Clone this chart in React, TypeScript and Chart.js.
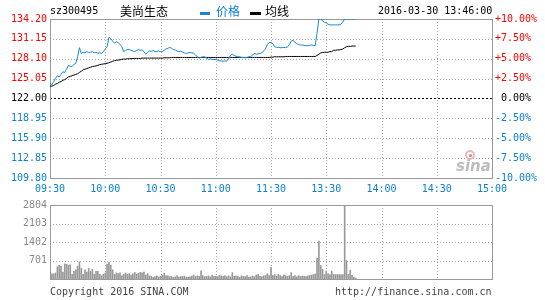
import React, { useEffect, useRef } from "react";
import { Chart, registerables } from "chart.js";
Chart.register(...registerables);

const tickMinutes = [0, 30, 60, 90, 120, 150, 180, 210, 240];
const timeLabels = ["09:30", "10:00", "10:30", "11:00", "11:30", "13:30", "14:00", "14:30", "15:00"];
const priceTicks = [109.8, 112.85, 115.9, 118.95, 122.0, 125.05, 128.1, 131.15, 134.2];
const pctTickValues = [-10, -7.5, -5, -2.5, 0, 2.5, 5, 7.5, 10];
const pctTickLabels = ["-10.00%", "-7.50%", "-5.00%", "-2.50%", " 0.00%", "+2.50%", "+5.00%", "+7.50%", "+10.00%"];
const prevClose = 122.0;
const volumeTicks = [701, 1402, 2103, 2804];

// minute-by-minute price (09:30 .. 13:46)
const price = [
  124.40, 124.10, 124.60, 125.10, 125.50, 125.30, 125.70, 126.10, 126.00, 126.50,
  127.10, 126.90, 126.95, 127.20, 127.40, 128.40, 129.80, 128.90, 129.10, 129.00,
  129.20, 129.05, 129.10, 129.20, 129.00, 129.10, 128.95, 129.00, 128.95, 129.20,
  129.60, 129.95, 131.40, 131.20, 130.80, 130.50, 130.70, 130.60, 130.30, 129.95,
  129.20, 129.40, 129.50, 129.55, 129.40, 129.30, 129.20, 129.35, 129.50, 129.40,
  129.45, 129.20, 128.80, 129.10, 129.30, 129.25, 129.35, 129.20, 129.20, 129.30,
  129.20, 129.20, 129.40, 129.60, 129.70, 129.85, 129.70, 129.50, 129.45, 129.30,
  129.20, 129.25, 129.10, 129.00, 128.90, 129.00, 129.10, 129.00, 128.95, 128.70,
  128.40, 128.20, 128.30, 128.40, 128.40, 128.20, 128.00, 128.05, 128.00, 128.00,
  128.00, 127.90, 127.80, 127.75, 127.75, 127.75, 127.75, 128.10, 128.60, 128.80,
  128.60, 128.50, 128.40, 128.40, 128.30, 128.30, 128.25, 128.30, 128.40, 128.40,
  128.70, 128.90, 128.80, 128.85, 128.90, 129.00, 129.30, 129.60, 130.30, 130.60,
  130.60, 130.40, 129.95, 129.85, 129.85, 129.80, 129.80, 129.85, 129.80, 129.90,
  130.30, 130.80, 130.95, 130.60, 130.40, 130.30, 130.20, 130.20, 130.15, 130.10,
  130.10, 130.15, 130.20, 130.15, 130.10, 132.00, 134.20, 134.20, 133.90, 133.70,
  133.60, 133.40, 133.30, 133.30, 133.30, 133.30, 133.30, 133.30, 133.40, 133.75,
  134.20, 134.20, 134.20, 134.20, 134.20, 134.20, 134.20,
];

// minute-by-minute average price
const avgPrice = [
  123.90, 123.90, 124.00, 124.20, 124.30, 124.50, 124.60, 124.80, 124.90, 125.10,
  125.30, 125.40, 125.50, 125.60, 125.70, 125.80, 126.00, 126.20, 126.40, 126.50,
  126.60, 126.70, 126.80, 126.90, 126.95, 127.00, 127.10, 127.20, 127.25, 127.30,
  127.35, 127.40, 127.50, 127.60, 127.70, 127.80, 127.85, 127.90, 127.95, 128.00,
  128.05, 128.05, 128.10, 128.10, 128.10, 128.15, 128.15, 128.15, 128.15, 128.15,
  128.20, 128.20, 128.20, 128.20, 128.20, 128.20, 128.20, 128.20, 128.20, 128.20,
  128.20, 128.20, 128.25, 128.25, 128.25, 128.25, 128.30, 128.30, 128.30, 128.30,
  128.30, 128.30, 128.30, 128.30, 128.30, 128.30, 128.30, 128.30, 128.30, 128.30,
  128.30, 128.30, 128.30, 128.30, 128.30, 128.30, 128.30, 128.30, 128.30, 128.30,
  128.30, 128.30, 128.30, 128.30, 128.30, 128.30, 128.30, 128.30, 128.30, 128.30,
  128.30, 128.30, 128.30, 128.30, 128.30, 128.30, 128.30, 128.30, 128.30, 128.30,
  128.30, 128.30, 128.30, 128.30, 128.30, 128.30, 128.30, 128.30, 128.30, 128.30,
  128.35, 128.35, 128.40, 128.40, 128.40, 128.40, 128.40, 128.40, 128.45, 128.45,
  128.45, 128.45, 128.45, 128.45, 128.45, 128.45, 128.45, 128.45, 128.45, 128.45,
  128.45, 128.45, 128.45, 128.45, 128.45, 128.60, 128.80, 129.00, 129.05, 129.10,
  129.10, 129.10, 129.20, 129.20, 129.40, 129.40, 129.45, 129.45, 129.50, 129.60,
  129.80, 129.95, 130.00, 130.00, 130.05, 130.05, 130.05,
];

// minute-by-minute volume
const volume = [
  350, 200, 200, 230, 460, 520, 480, 260, 570, 560, 520, 540, 180, 290, 350, 490, 650, 400, 180, 350,
  260, 400, 290, 370, 180, 290, 290, 180, 120, 180,
  230, 570, 630, 520, 350, 180, 230, 210, 230, 120, 180, 230, 180, 200, 150,
  200, 250, 180, 220, 250, 230, 260, 150, 200, 120, 100, 60, 90, 120, 80,
  100, 150, 220, 130, 120, 90, 100, 60, 80, 130, 70, 90, 100, 110, 70, 60, 80, 110, 150, 90,
  120, 100, 310, 130, 90, 100, 120, 80, 150, 100,
  100, 90, 140, 120, 100, 130, 90, 120, 80, 240, 100, 110, 90, 70, 120, 100, 90, 130, 60, 80,
  110, 90, 150, 170, 100, 90, 120, 130, 200, 130,
  430, 130, 170, 100, 170, 130, 90, 150, 120, 100, 130, 240, 90, 130, 80, 130, 100, 110, 100, 90,
  120, 130, 150, 170, 190,
  790, 1440, 510, 370, 170, 300, 200, 170, 300, 170, 170, 170, 170, 170, 170, 2804, 700, 170, 340, 140,
  60, 40,
];

const MONO = "'DejaVu Sans Mono', 'Liberation Mono', monospace";
const CJK = "'Noto Sans CJK SC', sans-serif";
const RED = "#ff0000";
const BLUE = "#0b80d4";
const LINE_BLUE = "#1a86d0";
const GRID = "#a8a8a8";
const FRAME = "#9a9a9a";

// draws dotted grid, dashed previous-close line and plot frame from the chart's scales
const framePlugin = {
  id: "frame",
  beforeDatasetsDraw(chart: any, _args: any, opts: any) {
    const { ctx, chartArea: a } = chart;
    const L = Math.round(a.left), R = Math.round(a.right), T = Math.round(a.top), B = Math.round(a.bottom);
    ctx.save();
    ctx.lineWidth = 1;
    ctx.strokeStyle = GRID;
    ctx.setLineDash([1, 2]);
    const xs = chart.scales.x;
    for (const m of tickMinutes) {
      const px = Math.round(xs.getPixelForValue(m)) + 0.5;
      if (px <= L + 1 || px >= R) continue;
      ctx.beginPath();
      ctx.moveTo(px, T);
      ctx.lineTo(px, B);
      ctx.stroke();
    }
    const ys = chart.scales.y;
    const yTicks: number[] = opts.yTicks || [];
    for (const v of yTicks) {
      if (opts.baseline !== undefined && Math.abs(v - opts.baseline) < 0.001) continue;
      const py = Math.round(ys.getPixelForValue(v)) + 0.5;
      if (py <= T + 1 || py >= B) continue;
      ctx.beginPath();
      ctx.moveTo(L, py);
      ctx.lineTo(R, py);
      ctx.stroke();
    }
    if (opts.baseline !== undefined) {
      const y = Math.round(ys.getPixelForValue(opts.baseline)) + 0.5;
      ctx.strokeStyle = "#000";
      ctx.setLineDash([2, 2]);
      ctx.beginPath();
      ctx.moveTo(L, y);
      ctx.lineTo(R, y);
      ctx.stroke();
    }
    ctx.setLineDash([]);
    ctx.strokeStyle = FRAME;
    ctx.strokeRect(L + 0.5, T + 0.5, R - L, B - T);
    ctx.restore();
  },
};

const xScale = (showLabels: boolean, height: number, pad: number) => ({
  type: "linear",
  min: 0,
  max: 240,
  offset: false,
  afterBuildTicks: (s: any) => {
    s.ticks = tickMinutes.map((v) => ({ value: v }));
  },
  afterFit: (s: any) => {
    s.height = height;
  },
  ticks: {
    display: showLabels,
    autoSkip: false,
    maxRotation: 0,
    padding: pad,
    color: BLUE,
    font: { family: MONO, size: 10 },
    callback: (v: any) => timeLabels[tickMinutes.indexOf(v)],
  },
  grid: { display: false, offset: false, drawTicks: false },
  border: { display: false },
});

function PriceChart() {
  const ref = useRef<HTMLCanvasElement>(null);
  useEffect(() => {
    const chart = new Chart(ref.current as HTMLCanvasElement, {
      type: "line",
      data: {
        datasets: [
          {
            label: "价格",
            data: price.map((v, i) => ({ x: i, y: v })),
            borderColor: LINE_BLUE,
            borderWidth: 1,
            pointRadius: 0,
            tension: 0,
            yAxisID: "y",
          },
          {
            label: "均线",
            data: avgPrice.map((v, i) => ({ x: i, y: v })),
            borderColor: "#000",
            borderWidth: 1,
            pointRadius: 0,
            tension: 0,
            yAxisID: "y",
          },
        ],
      },
      options: {
        animation: false,
        responsive: false,
        layout: { padding: { top: 19, left: 0, right: 0, bottom: 0 } },
        plugins: {
          legend: { display: false },
          tooltip: { enabled: false },
          title: { display: false },
          frame: { baseline: prevClose, yTicks: priceTicks },
        } as any,
        scales: {
          x: xScale(true, 18, 5) as any,
          y: {
            type: "linear",
            position: "left",
            min: priceTicks[0],
            max: priceTicks[priceTicks.length - 1],
            afterBuildTicks: (s: any) => {
              s.ticks = priceTicks.map((v) => ({ value: v }));
            },
            afterFit: (s: any) => {
              s.width = 50;
            },
            ticks: {
              padding: 3,
              autoSkip: false,
              font: { family: MONO, size: 10 },
              color: (c: any) => (c.tick.value > prevClose + 0.001 ? RED : c.tick.value < prevClose - 0.001 ? BLUE : "#000"),
              callback: (v: any) => Number(v).toFixed(2),
            },
            grid: { display: false, drawTicks: false },
            border: { display: false },
          },
          yR: {
            type: "linear",
            position: "right",
            min: -10,
            max: 10,
            afterBuildTicks: (s: any) => {
              s.ticks = pctTickValues.map((v) => ({ value: v }));
            },
            afterFit: (s: any) => {
              s.width = 53;
            },
            ticks: {
              padding: 3,
              autoSkip: false,
              font: { family: MONO, size: 10 },
              color: (c: any) => (c.tick.value > 0 ? RED : c.tick.value < 0 ? BLUE : "#000"),
              callback: (v: any) => pctTickLabels[pctTickValues.indexOf(v)],
            },
            grid: { display: false, drawTicks: false },
            border: { display: false },
          },
        } as any,
      },
      plugins: [framePlugin as any],
    });
    return () => chart.destroy();
  }, []);
  return <canvas ref={ref} width={545} height={196} style={{ position: "absolute", left: 0, top: 0, display: "block" }} />;
}

function VolumeChart() {
  const ref = useRef<HTMLCanvasElement>(null);
  useEffect(() => {
    const chart = new Chart(ref.current as HTMLCanvasElement, {
      type: "bar",
      data: {
        datasets: [
          {
            label: "成交量",
            data: volume.map((v, i) => ({ x: i, y: v })),
            backgroundColor: "#999999",
            borderWidth: 0,
            barThickness: 1,
          } as any,
        ],
      },
      options: {
        animation: false,
        responsive: false,
        layout: { padding: { top: 6, left: 0, right: 53, bottom: 0 } },
        plugins: {
          legend: { display: false },
          tooltip: { enabled: false },
          title: { display: false },
          frame: { yTicks: volumeTicks },
        } as any,
        scales: {
          x: xScale(false, 3, 0) as any,
          y: {
            type: "linear",
            position: "left",
            min: 0,
            max: volumeTicks[volumeTicks.length - 1],
            afterBuildTicks: (s: any) => {
              s.ticks = volumeTicks.map((v) => ({ value: v }));
            },
            afterFit: (s: any) => {
              s.width = 50;
            },
            ticks: {
              padding: 3,
              autoSkip: false,
              font: { family: MONO, size: 10 },
              color: "#8a8a8a",
              callback: (v: any) => String(v),
            },
            grid: { display: false, drawTicks: false },
            border: { display: false },
          },
        } as any,
      },
      plugins: [framePlugin as any],
    });
    return () => chart.destroy();
  }, []);
  return <canvas ref={ref} width={545} height={92} style={{ position: "absolute", left: 0, top: 196, display: "block" }} />;
}

const txt = (extra: React.CSSProperties): React.CSSProperties => ({
  position: "absolute",
  fontFamily: MONO,
  fontSize: 10,
  lineHeight: "10px",
  whiteSpace: "pre",
  ...extra,
});

export default function App() {
  return (
    <div style={{ position: "absolute", left: 0, top: 0, width: 545, height: 300, background: "#fff", overflow: "hidden" }}>
      <PriceChart />
      <VolumeChart />
      <div style={txt({ left: 50, top: 6, color: "#000" })}>sz300495</div>
      <div style={txt({ left: 120, top: 5, fontFamily: CJK, fontSize: 12, lineHeight: "12px", color: "#000" })}>美尚生态</div>
      <div style={{ position: "absolute", left: 200, top: 12, width: 10, height: 3, background: LINE_BLUE }} />
      <div style={txt({ left: 216, top: 5, fontFamily: CJK, fontSize: 12, lineHeight: "12px", color: BLUE })}>价格</div>
      <div style={{ position: "absolute", left: 250, top: 12, width: 11, height: 3, background: "#000" }} />
      <div style={txt({ left: 265, top: 5, fontFamily: CJK, fontSize: 12, lineHeight: "12px", color: "#000" })}>均线</div>
      <div style={txt({ left: 378, top: 6, color: "#000" })}>2016-03-30 13:46:00</div>
      <div style={{ position: "absolute", left: 465, top: 150, width: 10, height: 10, borderRadius: 6, border: "2px solid #f6b3b8", boxSizing: "border-box" }} />
      <div style={{ position: "absolute", left: 469, top: 154, width: 3, height: 3, borderRadius: 2, background: "#999" }} />
      <div style={txt({ left: 456, top: 159, fontFamily: "'DejaVu Sans', sans-serif", fontSize: 15, lineHeight: "15px", fontStyle: "italic", fontWeight: "bold", color: "#bdbdbd" })}>sina</div>
      <div style={txt({ left: 50, top: 287, color: "#444" })}>Copyright 2016 SINA.COM</div>
      <div style={txt({ left: 335, top: 287, color: "#444" })}>http://finance.sina.com.cn</div>
    </div>
  );
}
